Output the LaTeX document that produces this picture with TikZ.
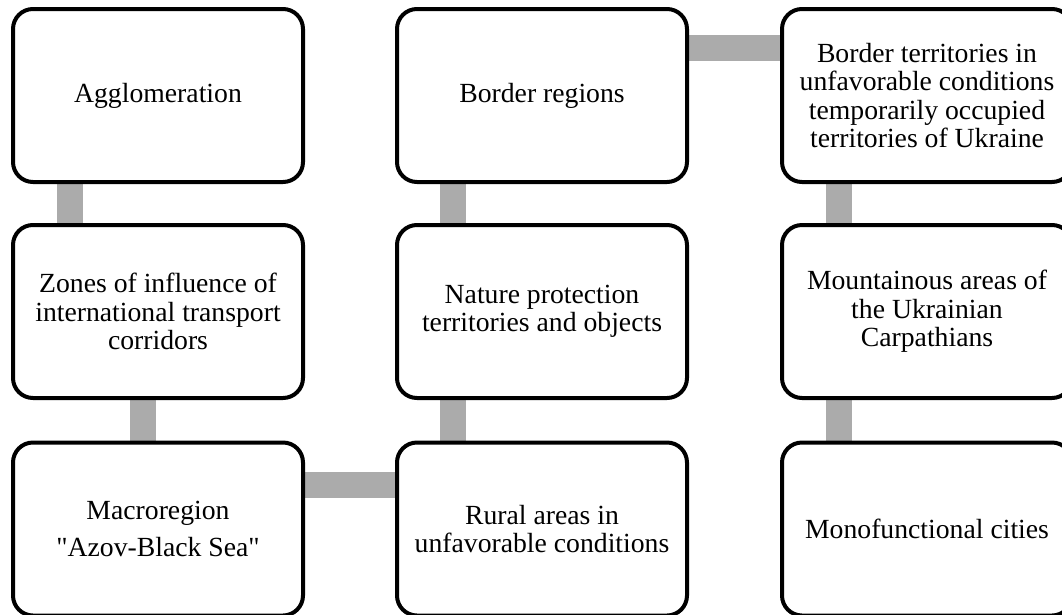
\documentclass[tikz,border=0pt]{standalone}
\usepackage{fontspec}
\setmainfont{Liberation Serif}
\usetikzlibrary{backgrounds}
\tikzset{
  box/.style={draw=black, fill=white, line width=4pt, rounded corners=20pt,
    minimum width=290pt, minimum height=173pt, inner sep=0pt, align=center,
    font=\fontsize{27.7}{28.5}\selectfont},
  conn/.style={draw=black!33, line width=26pt}
}
\begin{document}
\begin{tikzpicture}[x=1pt,y=-1pt]
\clip (0,0) rectangle (1062,614);
\node[box] (agg) at (158,95.5) {Agglomeration};
\node[box] (zones) at (158,311.5) {Zones of influence of\\international transport\\corridors};
\node[box] (macro) at (158,529) {Macroregion\\[9pt]\textquotedbl Azov-Black Sea\textquotedbl};
\node[box] (border) at (542,95.5) {Border regions};
\node[box] (nature) at (542,311.5) {Nature protection\\territories and objects};
\node[box] (rural) at (542,529) {Rural areas in\\unfavorable conditions};
\node[box] (bterr) at (927,95.5) {Border territories in\\unfavorable conditions\\temporarily occupied\\territories of Ukraine};
\node[box] (mount) at (927,311.5) {Mountainous areas of\\the Ukrainian\\Carpathians};
\node[box] (mono) at (927,529) {Monofunctional cities};
\begin{scope}[on background layer]
\draw[conn] ([xshift=59pt]agg.south west) -- ([xshift=59pt]zones.north west);
\draw[conn] ([xshift=132pt]zones.south west) -- ([xshift=132pt]macro.north west);
\draw[conn] ([yshift=-44pt]macro.north east) -- ([yshift=-44pt]rural.north west);
\draw[conn] ([xshift=58pt]rural.north west) -- ([xshift=58pt]nature.south west);
\draw[conn] ([xshift=58pt]nature.north west) -- ([xshift=58pt]border.south west);
\draw[conn] ([yshift=-41pt]border.north east) -- ([yshift=-41pt]bterr.north west);
\draw[conn] ([xshift=59pt]bterr.south west) -- ([xshift=59pt]mount.north west);
\draw[conn] ([xshift=59pt]mount.south west) -- ([xshift=59pt]mono.north west);
\end{scope}
\end{tikzpicture}
\end{document}
